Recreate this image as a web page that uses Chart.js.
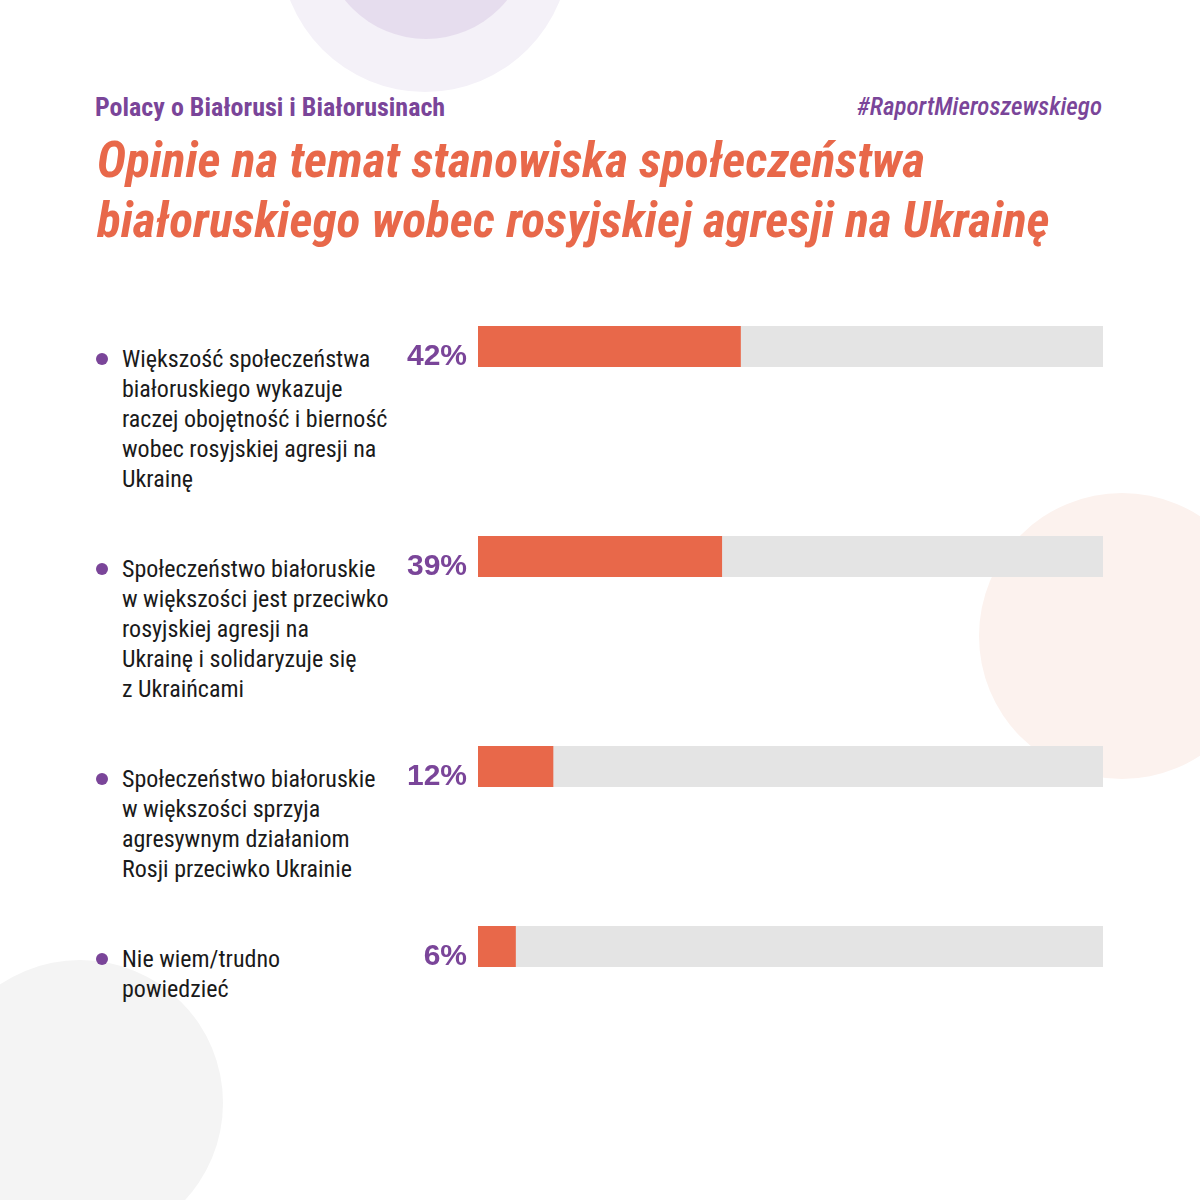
<!DOCTYPE html>
<html lang="pl">
<head>
<meta charset="utf-8">
<title>Opinie na temat stanowiska społeczeństwa białoruskiego</title>
<script src="https://cdn.jsdelivr.net/npm/chart.js@4.4.1/dist/chart.umd.min.js"></script>
<style>
  html, body { margin: 0; padding: 0; background: #fff; }
  body { width: 1200px; height: 1200px; position: relative; overflow: hidden; font-family: "Roboto Condensed", "Roboto", sans-serif; }
  .blob { position: absolute; border-radius: 50%; }
  .kicker { position: absolute; top: 92px; left: 95px; font-size: 26px; line-height: 30px; font-weight: bold; color: #7a4599; white-space: nowrap; }
  .tag { position: absolute; top: 92px; right: 98px; font-size: 25px; line-height: 30px; font-weight: 500; font-style: italic; color: #7a4599; white-space: nowrap; }
  .title { position: absolute; top: 130px; left: 97px; margin: 0; font-size: 49.5px; line-height: 60px; font-weight: bold; font-style: italic; color: #e8684a; white-space: nowrap; }
  #rows { position: absolute; top: 326px; left: 0; width: 1200px; display: flex; flex-direction: column; gap: 42px; }
  .row { position: relative; padding-top: 18px; }
  .label { margin: 0 0 0 122px; width: 280px; font-size: 24px; line-height: 30px; color: #1a1a1a; white-space: pre; position: relative; }
  .label::before { content: ""; position: absolute; left: -26px; top: 9px; width: 12px; height: 12px; border-radius: 50%; background: #7a4599; }
  .bar { position: absolute; top: 0; left: 390px; width: 713px; height: 61px; }
</style>
</head>
<body>
<div class="blob" style="left:280px; top:-198px; width:290px; height:290px; background:#f4f1f8;"></div>
<div class="blob" style="left:322px; top:-169px; width:208px; height:208px; background:#e6ddee;"></div>
<div class="blob" style="left:979px; top:493px; width:286px; height:286px; background:#fcf2ee;"></div>
<div class="blob" style="left:-63px; top:960px; width:286px; height:286px; background:#f4f4f4;"></div>

<div class="kicker">Polacy o Białorusi i Białorusinach</div>
<div class="tag">#RaportMieroszewskiego</div>
<h1 class="title">Opinie na temat stanowiska społeczeństwa<br>białoruskiego wobec rosyjskiej agresji na Ukrainę</h1>

<div id="rows"></div>

<script>
// ------------------------------------------------------------
// DATA
// ------------------------------------------------------------
const categories = [
  ['Większość społeczeństwa', 'białoruskiego wykazuje', 'raczej obojętność i bierność', 'wobec rosyjskiej agresji na', 'Ukrainę'],
  ['Społeczeństwo białoruskie', 'w większości jest przeciwko', 'rosyjskiej agresji na', 'Ukrainę i solidaryzuje się', 'z Ukraińcami'],
  ['Społeczeństwo białoruskie', 'w większości sprzyja', 'agresywnym działaniom', 'Rosji przeciwko Ukrainie'],
  ['Nie wiem/trudno', 'powiedzieć'],
];
const values = [42, 39, 12, 6];
const scaleMax = 100;

const PURPLE = '#7a4599';
const ORANGE = '#e8684a';
const TRACK = '#e4e4e4';

Chart.defaults.font.family = '"Liberation Sans", sans-serif';
Chart.defaults.animation = false;

const rowsEl = document.getElementById('rows');

categories.forEach((lines, i) => {
  const row = document.createElement('div');
  row.className = 'row';
  const label = document.createElement('div');
  label.className = 'label';
  label.textContent = lines.join('\n');
  const wrap = document.createElement('div');
  wrap.className = 'bar';
  const canvas = document.createElement('canvas');
  canvas.width = 713;
  canvas.height = 61;
  wrap.appendChild(canvas);
  row.appendChild(label);
  row.appendChild(wrap);
  rowsEl.appendChild(row);

  new Chart(canvas, {
    type: 'bar',
    data: {
      labels: [values[i] + '%'],
      datasets: [
        { data: [values[i]], backgroundColor: ORANGE, order: 0 },
        { data: [scaleMax], backgroundColor: TRACK, order: 1 },
      ],
    },
    options: {
      indexAxis: 'y',
      responsive: false,
      layout: { padding: { top: 0, bottom: 20, left: 0, right: 0 } },
      plugins: { legend: { display: false }, tooltip: { enabled: false } },
      datasets: { bar: { grouped: false, barPercentage: 1, categoryPercentage: 1, borderWidth: 0 } },
      scales: {
        x: { min: 0, max: scaleMax, display: false },
        y: {
          grid: { display: false, drawTicks: false },
          border: { display: false },
          ticks: { color: PURPLE, padding: 11, labelOffset: 10, font: { size: 30, weight: 'bold' } },
          // fixed axis width so every bar starts at the same x, and no label padding above/below
          afterFit: scale => {
            scale.width = 88;
            scale.paddingTop = 0;
            scale.paddingBottom = 0;
          },
        },
      },
    },
  });
});
</script>
</body>
</html>
